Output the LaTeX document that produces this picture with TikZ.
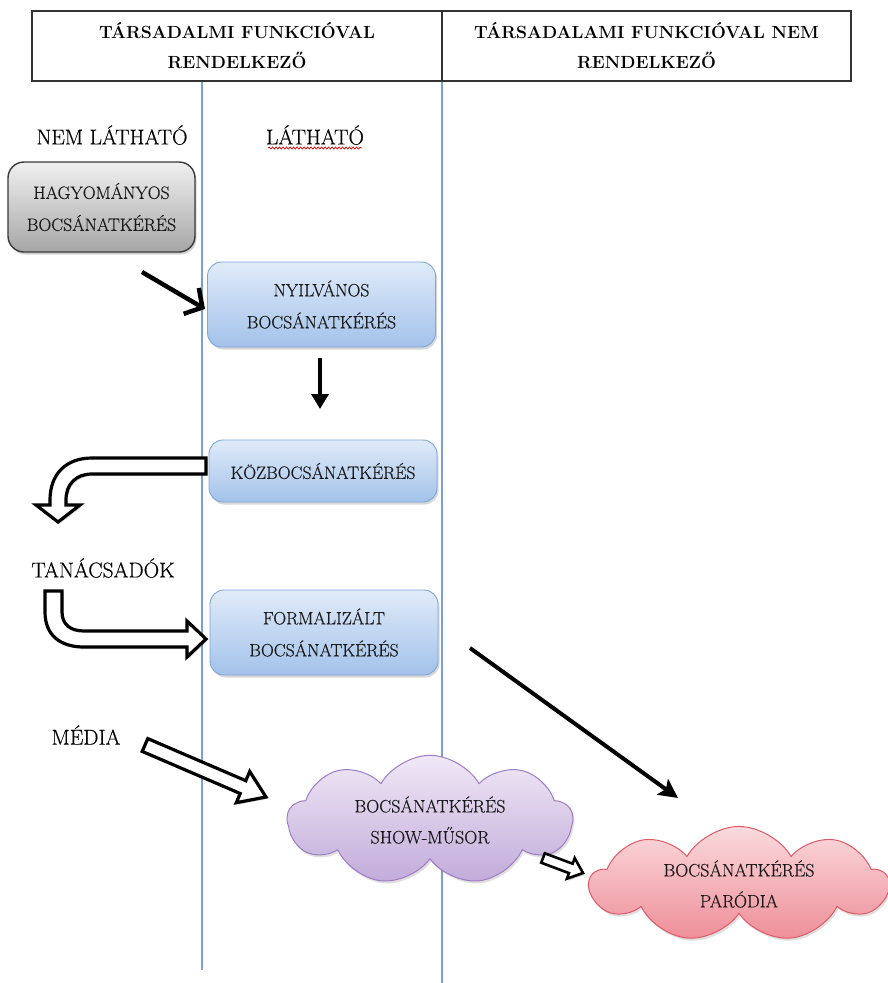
\documentclass[tikz,border=0pt]{standalone}
\usepackage{fontspec}
\newfontfamily\reffont{Latin Modern Roman}[FakeBold=0.35]
\usetikzlibrary{arrows.meta,shapes.symbols,shadows,decorations.pathmorphing,calc}
\definecolor{hdrline}{HTML}{333333}
\definecolor{vline}{HTML}{7BA0D6}
\definecolor{bluetop}{HTML}{E0EBF9}
\definecolor{bluebot}{HTML}{A3C2EA}
\definecolor{blueedge}{HTML}{7EA7D9}
\definecolor{graytop}{HTML}{F0F0F0}
\definecolor{graybot}{HTML}{A6A6A6}
\definecolor{grayedge}{HTML}{3A3A3A}
\definecolor{purtop}{HTML}{F0E8F6}
\definecolor{purbot}{HTML}{C2ABDA}
\definecolor{puredge}{HTML}{A07CC5}
\definecolor{pinktop}{HTML}{FADADD}
\definecolor{pinkbot}{HTML}{EE8E98}
\definecolor{pinkedge}{HTML}{E05A66}
\begin{document}
\begin{tikzpicture}[x=1pt,y=-1pt,
  hdr/.style={draw=hdrline, line width=1.3pt, minimum height=70pt, align=center,
    font=\fontsize{17.6}{30}\selectfont\bfseries, inner sep=0pt},
  lbl/.style={font=\reffont\fontsize{21.5}{25}\selectfont, inner sep=1pt},
  boxtext/.style={align=center, font=\reffont\fontsize{17.8}{32}\selectfont, text=black!90},
  bluebox/.style={boxtext, rounded corners=14pt, draw=blueedge, line width=0.9pt,
    top color=bluetop, bottom color=bluebot, minimum width=228pt,
    drop shadow={shadow xshift=1.5pt, shadow yshift=-2.5pt, opacity=.3}},
  graybox/.style={boxtext, rounded corners=16pt, draw=grayedge, line width=1.4pt,
    top color=graytop, bottom color=graybot, minimum width=187pt, minimum height=90pt,
    drop shadow={shadow xshift=1.5pt, shadow yshift=-2.5pt, opacity=.35}},
  cloudbox/.style={boxtext, cloud, cloud puffs=9, cloud puff arc=120, aspect=2.3,
    line width=1pt, font=\reffont\fontsize{18}{31}\selectfont, inner sep=0pt,
    drop shadow={shadow xshift=1.5pt, shadow yshift=-2.5pt, opacity=.25}},
  colline/.style={draw=vline, line width=1.1pt},
  solidarrow/.style={draw=black, line width=4.5pt},
  hollow/.style={draw=black, fill=white, line width=3.2pt, line join=miter,
    drop shadow={shadow xshift=1.5pt, shadow yshift=-2pt, opacity=.3}},
  squiggle/.style={draw=red!85!black, line width=0.7pt, decorate,
    decoration={snake, amplitude=1pt, segment length=3.5pt}}
]
\useasboundingbox (0,0) rectangle (887,983);
\fill[white] (0,0) rectangle (887,983);

% column lines
\draw[colline] (202,81) -- (202,970);
\draw[colline] (442,81) -- (442,983);

% header table
\node[hdr, minimum width=410pt] (h1) at (237,46) {TÁRSADALMI FUNKCIÓVAL\\RENDELKEZŐ};
\node[hdr, minimum width=409pt] (h2) at (646.5,46) {TÁRSADALAMI FUNKCIÓVAL NEM\\RENDELKEZŐ};

% column labels
\node[lbl] (nemlat) at (112,135) {NEM LÁTHATÓ};
\node[lbl] (lat) at (315,135) {LÁTHATÓ};
\draw[squiggle] (268,148) -- (362,148);

% boxes
\node[graybox] (hag) at (101.5,207) {HAGYOMÁNYOS\\BOCSÁNATKÉRÉS};
\node[bluebox, minimum height=85pt] (nyil) at (321.5,304.5) {NYILVÁNOS\\BOCSÁNATKÉRÉS};
\node[bluebox, minimum height=62pt] (koz) at (323,471) {KÖZBOCSÁNATKÉRÉS};
\node[bluebox, minimum height=85pt] (form) at (324,632.5) {FORMALIZÁLT\\BOCSÁNATKÉRÉS};

% labels
\node[lbl] (tan) at (103,568) {TANÁCSADÓK};
\node[lbl] (media) at (86,735) {MÉDIA};

% clouds
\node[cloudbox, draw=puredge, top color=purtop, bottom color=purbot,
  minimum width=285pt, minimum height=118pt] (show) at (430,820) {BOCSÁNATKÉRÉS\\SHOW-MŰSOR};
\node[cloudbox, aspect=2.75, draw=pinkedge, top color=pinktop, bottom color=pinkbot,
  minimum width=298pt, minimum height=104pt] (par) at (739,884) {BOCSÁNATKÉRÉS\\PARÓDIA};

% solid arrows
\coordinate (a1s) at (142,272);
\coordinate (a1e) at (205,309);
\draw[solidarrow, -{Straight Barb[length=13pt,width=30pt,line width=4.5pt]}] (a1s) -- (a1e);
\coordinate (a2s) at (320,358);
\coordinate (a2e) at (320,409);
\draw[solidarrow, line width=4pt, -{Triangle[length=15pt,width=17pt]}] (a2s) -- (a2e);
\coordinate (a3s) at (470,648);
\coordinate (a3e) at (678,798);
\draw[solidarrow, line width=4pt, -{Stealth[length=19pt,width=19pt,inset=4pt]}] (a3s) -- (a3e);

% hollow bent arrow: koz -> tanacsadok
\draw[hollow] (206,458) -- (92,458) .. controls (66,458) and (50,474) .. (50,500)
  -- (50,505) -- (36,505) -- (58,522) -- (80,505) -- (66,505) -- (66,500)
  .. controls (66,484) and (76,474) .. (92,474) -- (206,474) -- cycle;

% hollow bent arrow: tanacsadok -> form
\draw[hollow] (45,591) -- (62,591) -- (62,612) .. controls (62,624) and (70,631) .. (84,631)
  -- (187,631) -- (187,621) -- (206,639) -- (187,657) -- (187,647) -- (84,647)
  .. controls (60,647) and (45,635) .. (45,612) -- cycle;

% hollow straight arrow: media -> show
\draw[hollow] (142.2,751.4) -- (240.2,793.5) -- (236.3,802.7) -- (266,797)
  -- (249.7,771.5) -- (245.8,780.7) -- (147.8,738.6) -- cycle;

% small hollow arrow: show -> parodia
\draw[hollow, line width=2.6pt] (541.2,862.7) -- (569.0,873.1) -- (566.9,878.7) -- (583,873)
  -- (574.7,858.1) -- (572.6,863.7) -- (544.8,853.3) -- cycle;
\end{tikzpicture}
\end{document}
